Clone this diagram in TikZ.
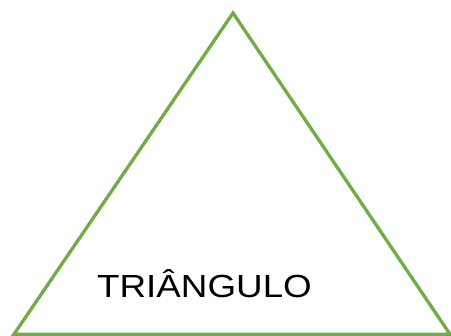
\documentclass[tikz,border=0pt]{standalone}
\usepackage{fontspec}
\setmainfont{Liberation Sans}
\definecolor{tgreen}{RGB}{112,173,71}
\begin{document}
\begin{tikzpicture}[x=1pt,y=1pt,
  edge/.style={draw=tgreen,line width=3.3pt,line join=miter},
  label/.style={font=\fontsize{32}{38}\selectfont,inner sep=0pt,anchor=base,xscale=1.15}]
\useasboundingbox (0,0) rectangle (451,336);
\coordinate (apex) at (233,323);
\coordinate (bl) at (14,1.8);
\coordinate (br) at (450,1.8);
\draw[edge] (apex) -- (bl) -- (br) -- cycle;
\node[label] (t) at (204.5,38) {TRIÂNGULO};
\end{tikzpicture}
\end{document}
